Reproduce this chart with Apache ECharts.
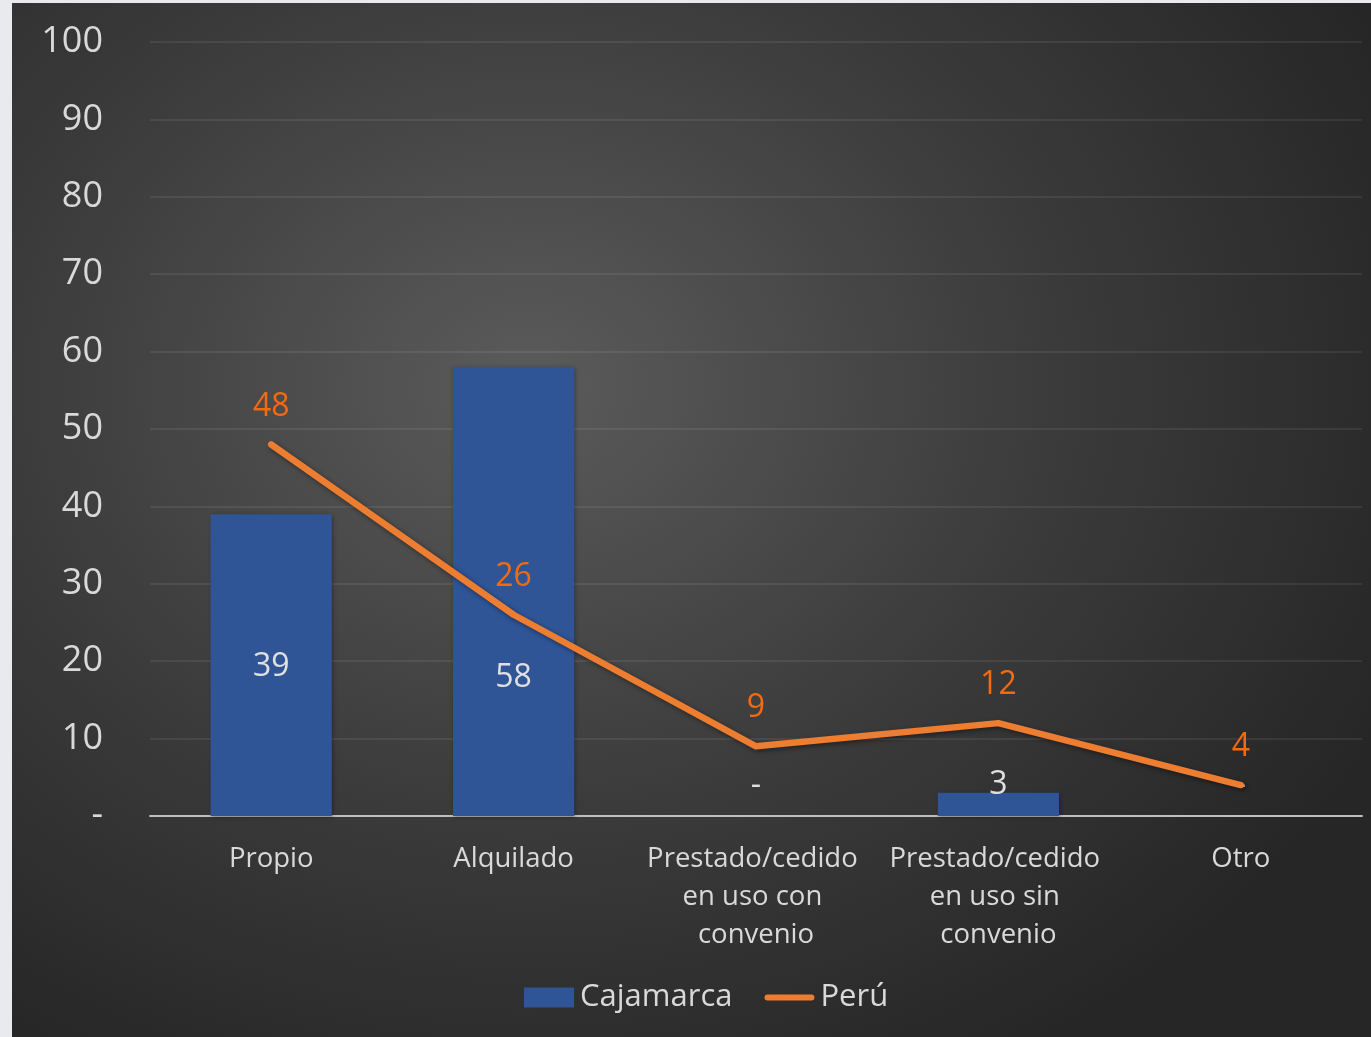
<!DOCTYPE html>
<html>
<head>
<meta charset="utf-8">
<script src="https://cdn.jsdelivr.net/npm/echarts@6/dist/echarts.min.js"></script>
<style>
html,body{margin:0;padding:0;width:1371px;height:1037px;overflow:hidden;background:#e9eaed;}
#wrap{position:absolute;left:12px;top:3px;width:1359px;height:1034px;
background:radial-gradient(ellipse 70% 75% at 38% 37%, #5b5b5b 0%, #3b3b3b 55%, #262626 100%);}
#chart{width:100%;height:100%;}
</style>
</head>
<body>
<div id="wrap"><div id="chart"></div></div>
<script>
const categories = ['Propio', 'Alquilado', 'Prestado/cedido en uso con convenio', 'Prestado/cedido en uso sin convenio', 'Otro'];
const cajamarca = [39, 58, 0, 3, 0];
const peru = [48, 26, 9, 12, 4];
const yTicks = { min: 0, max: 100, interval: 10 };

const FONT = '"Open Sans", sans-serif';
const fmt = v => (v === 0 ? '-' : String(v));
// per-bar label distance from bar bottom (matches the reference label placement)
const barLabelDist = [134, 123, 15, 16, 15];
const lineIcon = 'path://M0,0h0.01v0.01h-0.01zM0,20h0.01v-0.01h-0.01zM50,0h-0.01v0.01h0.01zM50,20h-0.01v-0.01h0.01z' +
  'M3,7h44a3,3 0 0 1 0,6h-44a3,3 0 0 1 0,-6z';

const chart = echarts.init(document.getElementById('chart'), null, { renderer: 'canvas' });
chart.setOption({
  backgroundColor: 'transparent',
  textStyle: { fontFamily: FONT },
  grid: { left: 138, right: 9, top: 39, bottom: 221, containLabel: false },
  legend: {
    bottom: 19,
    left: 507,
    itemGap: 32,
    itemWidth: 50,
    itemHeight: 20,
    textStyle: { color: '#d9d9d9', fontSize: 31, fontFamily: FONT, padding: [0, 0, 0, 1] },
    data: [
      { name: 'Cajamarca', icon: 'rect' },
      { name: 'Perú', icon: lineIcon, itemStyle: { color: '#ED7D31' } }
    ]
  },
  xAxis: {
    type: 'category',
    data: categories,
    axisLine: { lineStyle: { color: '#bfbfbf', width: 2 } },
    axisTick: { show: false },
    axisLabel: {
      color: '#d9d9d9', fontSize: 27.5, fontFamily: FONT, lineHeight: 38,
      margin: 24, width: 230, overflow: 'break', interval: 0
    }
  },
  yAxis: {
    type: 'value',
    min: yTicks.min, max: yTicks.max, interval: yTicks.interval,
    axisLine: { show: false },
    axisTick: { show: false },
    axisLabel: { color: '#d9d9d9', fontSize: 36, fontFamily: FONT, margin: 47, formatter: fmt },
    splitLine: { lineStyle: { color: 'rgba(255,255,255,0.10)', width: 1.5 } }
  },
  series: [
    {
      name: 'Cajamarca',
      type: 'bar',
      barWidth: '50%',
      data: cajamarca.map((v, i) => ({
        value: v,
        label: { distance: barLabelDist[i] }
      })),
      itemStyle: { color: '#2F5597', shadowColor: 'rgba(0,0,0,0.35)', shadowBlur: 4, shadowOffsetX: 1, shadowOffsetY: 1 },
      label: {
        show: true, position: 'insideBottom', color: '#e0e0e0', fontSize: 32, fontFamily: FONT,
        lineHeight: 30, formatter: p => fmt(p.value)
      },
      z: 2
    },
    {
      name: 'Perú',
      type: 'line',
      data: peru,
      symbol: 'circle',
      symbolSize: 0,
      showSymbol: true,
      lineStyle: { color: '#ED7D31', width: 6.5, cap: 'round', join: 'round',
        shadowColor: 'rgba(0,0,0,0.45)', shadowBlur: 5, shadowOffsetX: 2, shadowOffsetY: 2 },
      itemStyle: { color: '#ED7D31' },
      label: {
        show: true, position: 'top', distance: 23, color: '#F46A0E', fontSize: 32,
        fontFamily: FONT, lineHeight: 30
      },
      z: 3
    }
  ]
});
</script>
</body>
</html>
